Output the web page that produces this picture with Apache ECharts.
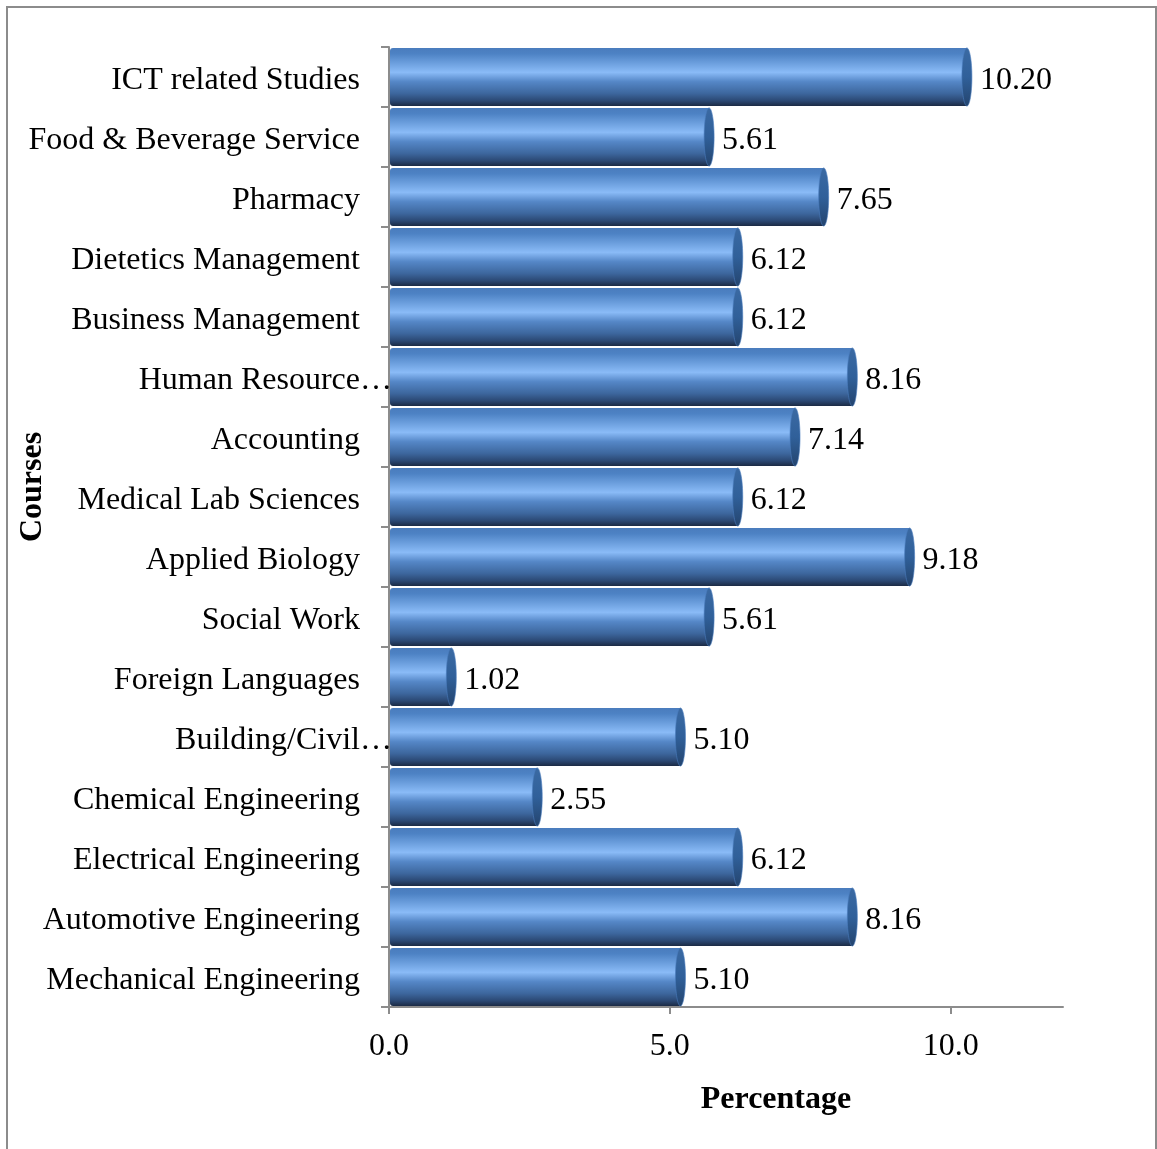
<!DOCTYPE html>
<html>
<head>
<meta charset="utf-8">
<style>
  html, body { margin: 0; padding: 0; background: #fff; }
  #chart { width: 1157px; height: 1149px; }
</style>
<script src="https://cdn.jsdelivr.net/npm/echarts@6/dist/echarts.min.js"></script>
</head>
<body>
<div id="chart"></div>
<script>
// Share of students by course (%)
const courses = [
  "ICT related Studies",
  "Food & Beverage Service",
  "Pharmacy",
  "Dietetics Management",
  "Business Management",
  "Human Resource…",
  "Accounting",
  "Medical Lab Sciences",
  "Applied Biology",
  "Social Work",
  "Foreign Languages",
  "Building/Civil…",
  "Chemical Engineering",
  "Electrical Engineering",
  "Automotive Engineering",
  "Mechanical Engineering"
];
const percentages = [10.20, 5.61, 7.65, 6.12, 6.12, 8.16, 7.14, 6.12, 9.18, 5.61, 1.02, 5.10, 2.55, 6.12, 8.16, 5.10];
const xTicks = [0, 5, 10];

const FONT = '"Liberation Serif", "Times New Roman", serif';
const FONT_SIZE = 32;
const AXIS_GRAY = '#8c8c8c';

const chart = echarts.init(document.getElementById('chart'), null, { renderer: 'canvas' });

// Cylinder-style bar: shaded body plus an elliptical end cap, with the value printed after it
function renderCylinder(params, api) {
  const idx = api.value(1);
  const val = api.value(0);
  const end = api.coord([val, idx]);
  const start = api.coord([0, idx]);
  const band = api.size([0, 1])[1];
  const h = band * 0.97;
  const rx = 5;
  const cy = end[1];
  const cx = end[0] + rx;
  const x0 = start[0] + 1;
  return {
    type: 'group',
    children: [
      {
        type: 'rect',
        shape: { x: x0, y: cy - h / 2, width: cx - x0, height: h, r: [3, 0, 0, 3] },
        style: {
          fill: new echarts.graphic.LinearGradient(0, 0, 0, 1, [
            { offset: 0, color: '#4a7cbd' },
            { offset: 0.1, color: '#4d82c4' },
            { offset: 0.42, color: '#8abbf7' },
            { offset: 0.58, color: '#5587c7' },
            { offset: 0.78, color: '#3d679e' },
            { offset: 0.91, color: '#2b4873' },
            { offset: 1, color: '#1b2a44' }
          ])
        }
      },
      {
        type: 'ellipse',
        shape: { cx: cx, cy: cy, rx: rx, ry: h / 2 },
        style: {
          fill: new echarts.graphic.LinearGradient(0, 0, 0, 1, [
            { offset: 0, color: '#3b6aa3' },
            { offset: 0.5, color: '#30609a' },
            { offset: 1, color: '#24446e' }
          ]),
          stroke: '#4a7cbd',
          lineWidth: 0.6
        }
      },
      {
        type: 'text',
        style: {
          x: cx + rx + 8,
          y: cy + 4,
          text: val.toFixed(2),
          font: FONT_SIZE + 'px ' + FONT,
          fill: '#000',
          align: 'left',
          verticalAlign: 'middle'
        }
      }
    ]
  };
}

// Truncated course names keep their ellipsis hanging past the label's right edge
const yAxisData = courses.map(name => {
  if (name.endsWith('…')) {
    return { value: name, textStyle: { padding: [0, -FONT_SIZE, 0, 0] } };
  }
  return name;
});

const option = {
  animation: false,
  backgroundColor: '#fff',
  grid: { left: 389, right: 94, top: 47, bottom: 142, containLabel: false },
  xAxis: {
    type: 'value',
    min: 0,
    max: 12,
    interval: 5,
    splitLine: { show: false },
    axisLine: { show: true, lineStyle: { color: AXIS_GRAY, width: 2 } },
    axisTick: { show: true, length: 7, lineStyle: { color: AXIS_GRAY, width: 2 }, customValues: xTicks },
    axisLabel: {
      customValues: xTicks,
      formatter: v => v.toFixed(1),
      fontFamily: FONT,
      fontSize: FONT_SIZE,
      color: '#000',
      margin: 24
    }
  },
  yAxis: {
    type: 'category',
    data: yAxisData,
    inverse: true,
    axisLine: { show: true, lineStyle: { color: AXIS_GRAY, width: 2 } },
    axisTick: { show: true, length: 8, alignWithLabel: false, lineStyle: { color: AXIS_GRAY, width: 2 } },
    axisLabel: {
      interval: 0,
      fontFamily: FONT,
      fontSize: FONT_SIZE,
      color: '#000',
      margin: 29,
      formatter: name => '{c|' + name + '}',
      rich: {
        c: { fontFamily: FONT, fontSize: FONT_SIZE, color: '#000', padding: [8, 0, 0, 0] }
      }
    }
  },
  series: [
    {
      type: 'custom',
      renderItem: renderCylinder,
      encode: { x: 0, y: 1 },
      data: percentages.map((v, i) => [v, i]),
      z: 1
    }
  ],
  graphic: [
    {
      type: 'rect',
      shape: { x: 7, y: 7, width: 1149, height: 1160 },
      style: { fill: null, stroke: AXIS_GRAY, lineWidth: 2 },
      silent: true
    },
    {
      type: 'text',
      x: 33,
      y: 487,
      rotation: Math.PI / 2,
      style: {
        text: 'Courses',
        font: 'bold ' + FONT_SIZE + 'px ' + FONT,
        fill: '#000',
        align: 'center',
        verticalAlign: 'middle'
      }
    },
    {
      type: 'text',
      x: 776,
      y: 1100,
      style: {
        text: 'Percentage',
        font: 'bold ' + FONT_SIZE + 'px ' + FONT,
        fill: '#000',
        align: 'center',
        verticalAlign: 'middle'
      }
    }
  ]
};

chart.setOption(option);
</script>
</body>
</html>
